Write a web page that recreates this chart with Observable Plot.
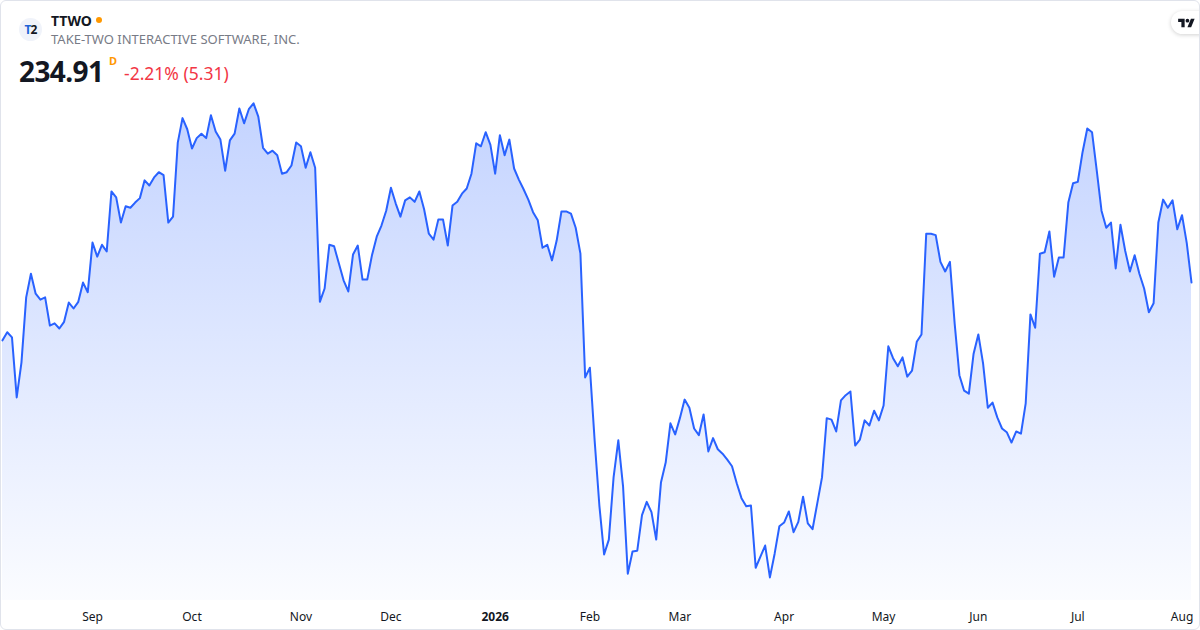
<!DOCTYPE html>
<html>
<head>
<meta charset="utf-8">
<script src="https://cdn.jsdelivr.net/npm/d3@7"></script>
<script src="https://cdn.jsdelivr.net/npm/@observablehq/plot@0.6"></script>
<style>
  html, body { margin: 0; padding: 0; background: #fff; }
  body { font-family: "Noto Sans", Roboto, sans-serif; }
  #card { position: relative; width: 1200px; height: 630px; overflow: hidden; background: #fff; }
  #chart { position: absolute; left: 0; top: 0; }
  #chart svg { background: transparent; }
  #border { position: absolute; left: 0; top: 0; width: 1200px; height: 630px; box-sizing: border-box;
            border: 1px solid #e0e3eb; border-radius: 6px; pointer-events: none; }
  .hdr { position: absolute; white-space: nowrap; }
  #logo { left: 19px; top: 18px; width: 23px; height: 23px; border-radius: 50%; background: #f0f3fa;
          display: flex; align-items: center; justify-content: center; font-weight: 700; font-size: 12px;
          color: #131722; letter-spacing: -1px; }
  #logo .t { color: #1e63d6; }
  #sym { left: 51px; top: 11px; font-size: 14px; font-weight: 700; color: #131722; }
  #dot { left: 96px; top: 17px; width: 6px; height: 6px; border-radius: 50%; background: #ff9800; }
  #name { left: 51px; top: 30px; font-size: 13px; color: #787b86; }
  #price { left: 19px; top: 52px; font-size: 28px; font-weight: 700; color: #131722; letter-spacing: -0.6px; }
  #dflag { left: 109px; top: 53px; font-size: 11px; font-weight: 700; color: #ff9800; }
  #chg { left: 124px; top: 61px; font-size: 17.5px; color: #f23645; }
  #tv { position: absolute; left: 1171px; top: 11px; width: 40px; height: 23px; border-radius: 12px;
        background: #fff; box-shadow: 0 1px 4px rgba(0,0,0,0.18); }
  #tv svg { position: absolute; left: 7px; top: 6px; }
</style>
</head>
<body>
<div id="card">
  <div id="chart"></div>
  <div class="hdr" id="logo"><span class="t">T</span>2</div>
  <div class="hdr" id="sym"></div>
  <div class="hdr" id="dot"></div>
  <div class="hdr" id="name"></div>
  <div class="hdr" id="price"></div>
  <div class="hdr" id="dflag">D</div>
  <div class="hdr" id="chg"></div>
  <div id="tv"><svg width="17" height="13" viewBox="0 0 36 28"><path fill="#131722" d="M14 22H7V11H0V4h14v18zM28 22h-8l7.5-18h8L28 22z"/><circle fill="#131722" cx="20" cy="8" r="4"/></svg></div>
  <div id="border"></div>
</div>
<script>
// ---- data ----
const symbol = "TTWO";
const companyName = "TAKE-TWO INTERACTIVE SOFTWARE, INC.";
const lastPrice = "234.91";
const changeText = "-2.21% (5.31)";

// daily closes (trading-day index 0 .. 251), Aug 2025 – Aug 2026
const closes = [
  227.1, 228.2, 227.5, 219.4, 224.1, 232.9, 236.1, 233.4, 232.6, 232.9,
  229.1, 229.4, 228.7, 229.6, 232.2, 231.4, 232.3, 234.9, 233.6, 240.3,
  238.4, 240.0, 239.1, 247.2, 246.4, 243.0, 245.2, 245.0, 245.7, 246.3,
  248.7, 248.0, 249.1, 249.8, 249.4, 243.0, 243.8, 253.8, 257.1, 255.6,
  253.0, 254.4, 255.0, 254.4, 257.5, 255.3, 254.2, 250.0, 254.1, 255.0,
  258.4, 256.4, 258.3, 259.1, 257.3, 253.1, 252.3, 252.7, 252.1, 249.6,
  249.8, 250.7, 253.8, 253.3, 250.4, 252.5, 250.4, 232.3, 234.1, 240.0,
  239.8, 237.5, 235.2, 233.7, 238.7, 239.9, 235.3, 235.3, 238.6, 241.1,
  242.6, 244.6, 247.7, 245.6, 243.8, 246.0, 246.4, 245.8, 247.2, 244.8,
  241.5, 240.7, 243.4, 243.4, 239.9, 245.3, 245.8, 246.9, 247.6, 249.6,
  253.7, 253.3, 255.2, 253.5, 249.6, 254.8, 252.1, 254.2, 250.3, 248.8,
  247.5, 246.1, 244.4, 243.3, 239.6, 240.0, 237.9, 240.6, 244.5, 244.5,
  244.2, 242.3, 238.8, 222.1, 223.4, 213.6, 204.8, 198.2, 200.2, 208.6,
  213.6, 207.4, 195.6, 198.6, 198.7, 203.5, 205.3, 203.9, 200.2, 207.9,
  210.6, 215.9, 214.4, 216.6, 219.1, 218.0, 215.2, 214.3, 217.1, 212.1,
  213.9, 212.4, 211.8, 211.0, 210.1, 207.8, 205.8, 204.7, 204.8, 196.4,
  197.9, 199.4, 195.1, 198.3, 202.0, 202.5, 204.0, 201.2, 202.6, 206.0,
  202.4, 201.6, 205.1, 208.6, 216.6, 216.4, 214.8, 219.0, 219.7, 220.2,
  212.9, 213.7, 216.3, 215.6, 217.6, 216.3, 218.3, 226.3, 224.7, 223.6,
  224.8, 222.2, 223.0, 226.9, 227.9, 241.5, 241.5, 241.3, 237.7, 236.4,
  237.7, 229.4, 222.4, 220.3, 219.9, 225.3, 227.9, 224.0, 218.0, 218.7,
  216.7, 215.2, 214.7, 213.3, 214.8, 214.5, 218.6, 230.6, 228.8, 238.8,
  239.0, 241.8, 235.7, 238.3, 238.3, 245.7, 248.3, 248.5, 252.5, 255.7,
  255.2, 250.0, 244.6, 242.3, 243.0, 236.8, 242.7, 239.2, 236.4, 238.6,
  236.1, 234.1, 230.9, 232.1, 243.0, 246.1, 245.0, 246.0, 242.1, 244.0,
  240.22, 234.91
];

// month ticks: trading-day index of first session of each month
const tickIdx    = [19, 40, 63, 82, 104, 124, 143, 165, 186, 206, 227, 249];
const tickLabels = ["Sep", "Oct", "Nov", "Dec", "2026", "Feb", "Mar", "Apr", "May", "Jun", "Jul", "Aug"];
const tickBold   = [false, false, false, false, true, false, false, false, false, false, false, false];

// ---- header ----
document.getElementById("sym").textContent = symbol;
document.getElementById("name").textContent = companyName;
document.getElementById("price").textContent = lastPrice;
document.getElementById("chg").textContent = changeText;

// ---- chart ----
const rows = closes.map((c, i) => ({i, c}));
const ticks = tickIdx.map((t, k) => ({t, label: tickLabels[k], bold: tickBold[k]}));
const yMin = 191.98, yMax = 260.83;

const plot = Plot.plot({
  width: 1200,
  height: 630,
  marginLeft: 2,
  marginRight: 9,
  marginTop: 90,
  marginBottom: 30,
  x: {type: "linear", domain: [0, closes.length - 1], axis: null},
  y: {domain: [yMin, yMax], axis: null},
  style: {fontFamily: "'Noto Sans', Roboto, sans-serif", background: "transparent", overflow: "visible"},
  marks: [
    Plot.areaY(rows, {x: "i", y1: yMin, y2: "c", fill: "url(#ttwoGrad)"}),
    Plot.lineY(rows, {x: "i", y: "c", stroke: "#2962ff", strokeWidth: 2, strokeLinejoin: "round"}),
    Plot.text(ticks.filter(d => !d.bold), {x: "t", text: "label", frameAnchor: "bottom", dy: 17,
      lineAnchor: "middle", fontSize: 12, fill: "#131722"}),
    Plot.text(ticks.filter(d => d.bold), {x: "t", text: "label", frameAnchor: "bottom", dy: 17,
      lineAnchor: "middle", fontSize: 12, fontWeight: 700, fill: "#131722"})
  ]
});

d3.select(plot).insert("defs", ":first-child").html(
  '<linearGradient id="ttwoGrad" gradientUnits="userSpaceOnUse" x1="0" y1="100" x2="0" y2="600">' +
  '<stop offset="0" stop-color="rgb(41,98,255)" stop-opacity="0.28"/>' +
  '<stop offset="1" stop-color="rgb(41,98,255)" stop-opacity="0.02"/>' +
  '</linearGradient>'
);

document.getElementById("chart").appendChild(plot);
</script>
</body>
</html>
